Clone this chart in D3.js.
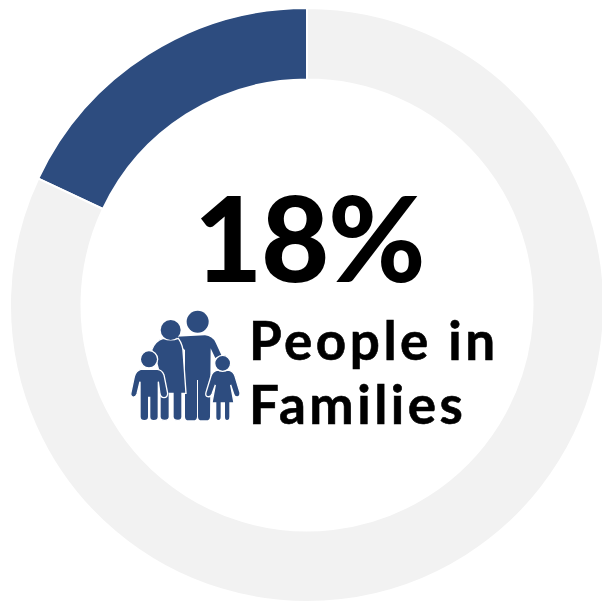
<!DOCTYPE html>
<html>
<head>
<meta charset="utf-8">
<script src="https://cdn.jsdelivr.net/npm/d3@7"></script>
<style>
  html, body { margin: 0; padding: 0; background: #fff; }
  svg { display: block; }
  text { font-family: "Lato", sans-serif; font-weight: 700; fill: #000; }
</style>
</head>
<body>
<div id="chart"></div>
<script>
const segmentNames = ["People in Families", "Other"];
const segmentValues = [18, 82];
const segmentColors = ["#2d4c7f", "#f2f2f2"];
const bigLabel = "18%";
const captionLines = ["People in", "Families"];

const width = 602, height = 603;
const cx = 307, cy = 305, outerR = 297, innerR = 225.5;

const svg = d3.select("#chart")
    .append("svg")
    .attr("width", width)
    .attr("height", height);

const pie = d3.pie().sort(null).value(d => d);
// blue slice runs counter-clockwise from 12 o'clock
const arcs = pie.startAngle(0).endAngle(-2 * Math.PI)(segmentValues);
const arc = d3.arc().innerRadius(innerR).outerRadius(outerR);

svg.append("g")
    .attr("transform", `translate(${cx},${cy})`)
    .selectAll("path")
    .data(arcs)
    .enter()
    .append("path")
    .attr("d", arc)
    .attr("fill", (d, i) => segmentColors[i])
    .attr("stroke", "#fff")
    .attr("stroke-width", 2);

svg.append("text")
    .attr("x", 194)
    .attr("y", 282)
    .style("font-size", "118px")
    .style("font-weight", 900)
    .style("letter-spacing", "-1.5px")
    .text(bigLabel);

svg.selectAll(".caption")
    .data(captionLines)
    .enter()
    .append("text")
    .attr("class", "caption")
    .attr("x", 249)
    .attr("y", (d, i) => 360 + i * 63.5)
    .style("font-size", "53px")
    .style("letter-spacing", "3.5px")
    .style("stroke", "#000")
    .style("stroke-width", "0.6px")
    .text(d => d);

// family icon, drawn at 3x and scaled down
const icon = svg.append("g")
    .attr("transform", "translate(120,300) scale(0.3333)")
    .attr("fill", segmentColors[0])
    .attr("stroke", "#fff")
    .attr("stroke-width", 4);

const man = "M170,110 L255,106 Q277,108 287,128 L304,165 L286,174 L272,145 L270,350 Q270,361 258,361 L245,361 Q234,361 234,350 L234,240 L231,240 L231,350 Q231,361 219,361 L206,361 Q195,361 195,350 L195,150 L170,130 Z";
const woman = "M95,150 Q105,122 130,115 Q152,124 175,115 Q190,135 190,165 L198,280 L186,280 L186,350 Q186,361 174,361 Q159,361 159,350 L159,280 L148,280 L148,350 Q148,361 134,361 Q120,361 120,350 L120,280 L116,210 L105,170 Z";
const boy = "M62,208 L112,208 Q127,210 132,225 L143,280 Q143,293 132,293 Q122,293 120,282 L115,245 L115,350 Q115,362 101,362 Q89,362 89,350 L89,292 L86,292 L86,350 Q86,362 73,362 Q60,362 60,350 L60,245 L51,282 Q47,293 38,291 Q30,288 33,277 L43,230 Q48,212 62,208 Z";
const girl = "M290,211 L328,211 Q340,214 345,228 L360,278 Q361,289 352,291 Q344,292 341,282 L332,255 L342,309 L330,309 L330,350 Q330,362 321,362 Q313,362 313,350 L313,309 L304,309 L304,350 Q304,362 295,362 Q287,362 287,350 L287,309 L276,309 L286,255 L276,282 Q272,292 263,290 Q255,288 258,277 L273,228 Q278,214 290,211 Z";

icon.append("path").attr("d", man).attr("stroke", "none");
icon.append("circle").attr("cx", 233).attr("cy", 65).attr("r", 33).attr("stroke", "none");
icon.append("path").attr("d", woman);
icon.append("circle").attr("cx", 152).attr("cy", 90).attr("r", 30).attr("stroke", "none");
icon.append("path").attr("d", boy);
icon.append("circle").attr("cx", 87).attr("cy", 178).attr("r", 26);
icon.append("path").attr("d", girl);
icon.append("circle").attr("cx", 308).attr("cy", 190).attr("r", 24);
</script>
</body>
</html>
